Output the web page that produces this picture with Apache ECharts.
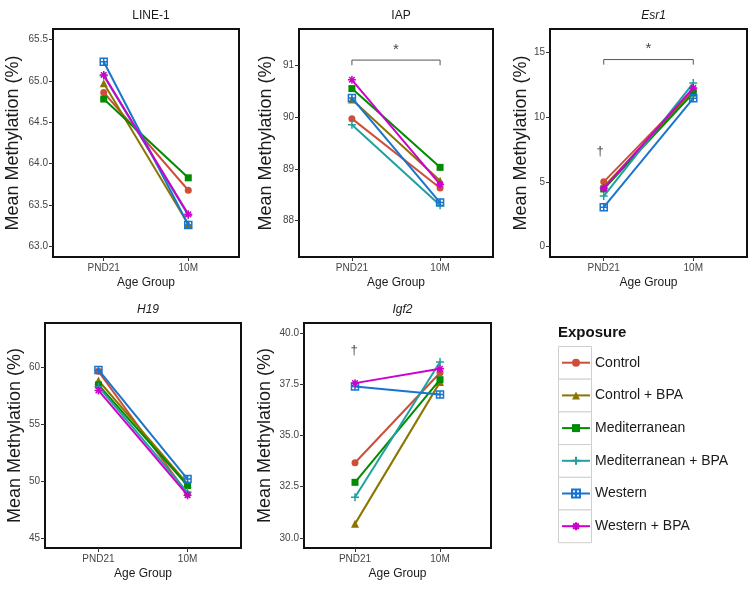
<!DOCTYPE html>
<html>
<head>
<meta charset="utf-8">
<script src="https://cdn.jsdelivr.net/npm/echarts@6/dist/echarts.min.js"></script>
<style>html,body{margin:0;padding:0;background:#fff}#c{width:754px;height:590px}</style>
</head>
<body>
<div id="c"></div>
<script>
// ---- data ----
const ageGroups = ['PND21', '10M'];
const exposures = ['Control', 'Control + BPA', 'Mediterranean', 'Mediterranean + BPA', 'Western', 'Western + BPA'];
const genes = ['LINE-1', 'IAP', 'Esr1', 'H19', 'Igf2'];
// values per exposure: [PND21, 10M]
const line1Values = [[64.86, 63.68], [64.97, 63.27], [64.78, 63.83], [65.06, 63.38], [65.23, 63.26], [65.07, 63.39]];
const iapValues   = [[89.97, 88.63], [90.34, 88.77], [90.55, 89.03], [89.85, 88.30], [90.37, 88.35], [90.72, 88.70]];
const esr1Values  = [[5.00, 12.10], [4.60, 12.00], [4.45, 11.85], [3.90, 12.63], [3.05, 11.45], [4.50, 12.25]];
const h19Values   = [[59.65, 48.85], [58.84, 49.75], [58.45, 49.60], [58.30, 49.00], [59.77, 50.17], [57.97, 48.75]];
const igf2Values  = [[33.67, 38.07], [30.68, 37.61], [32.71, 37.73], [31.98, 38.59], [37.40, 37.00], [37.56, 38.26]];
// y tick labels per panel
const line1Ticks = [63.0, 63.5, 64.0, 64.5, 65.0, 65.5];
const iapTicks   = [88, 89, 90, 91];
const esr1Ticks  = [0, 5, 10, 15];
const h19Ticks   = [45, 50, 55, 60];
const igf2Ticks  = [30.0, 32.5, 35.0, 37.5, 40.0];
// significance annotations
const iapBracket  = [91.0, 91.1];   // [tick end, bar]
const esr1Bracket = [14.05, 14.44];
const iapStar  = [1.5, 91.3];
const esr1Star = [1.5, 15.3];
const esr1Dagger = [0.96, 7.35];
const igf2Dagger = [0.99, 39.15];

// ---- styling ----
const colors = ['#cd4f39', '#8b7500', '#008b00', '#20a0a0', '#1874cd', '#cd00cd'];
const symbols = [
  'circle',
  'triangle',
  'rect',
  'path://M5,0 L5,10 M0,5 L10,5',
  'path://M0,0 L10,0 L10,10 L0,10 Z M5,0 L5,10 M0,5 L10,5',
  'path://M5,0 L5,10 M0,5 L10,5 M1.5,1.5 L8.5,8.5 M8.5,1.5 L1.5,8.5'
];
const strokeOnly = [false, false, false, true, true, true];
const symSizes = [7, 8, 7, 8, 7, 8];

const panels = [
  {name: genes[0], vals: line1Values, ticks: line1Ticks, dec: 1, min: 62.875, max: 65.625, italic: false,
   grid: {left: 53, top: 29, width: 186, height: 228}, nameGap: 31},
  {name: genes[1], vals: iapValues, ticks: iapTicks, dec: 0, min: 87.3, max: 91.7, italic: false,
   grid: {left: 299, top: 29, width: 194, height: 228}, nameGap: 24},
  {name: genes[2], vals: esr1Values, ticks: esr1Ticks, dec: 0, min: -0.8, max: 16.8, italic: true,
   grid: {left: 550, top: 29, width: 197, height: 228}, nameGap: 19},
  {name: genes[3], vals: h19Values, ticks: h19Ticks, dec: 0, min: 44.1, max: 63.9, italic: true,
   grid: {left: 45, top: 323, width: 196, height: 225}, nameGap: 21},
  {name: genes[4], vals: igf2Values, ticks: igf2Ticks, dec: 1, min: 29.5, max: 40.5, italic: true,
   grid: {left: 304, top: 323, width: 187, height: 225}, nameGap: 30}
];

const FONT = 'Liberation Sans, Arial, sans-serif';
const grids = [], xAxes = [], yAxes = [], series = [], titles = [];

panels.forEach((p, k) => {
  grids.push(Object.assign({show: true, borderColor: '#111', borderWidth: 2, backgroundColor: '#fff'}, p.grid));
  titles.push({
    text: p.name, left: p.grid.left + p.grid.width / 2, top: p.grid.top - 24, textAlign: 'center',
    textStyle: {fontFamily: FONT, fontSize: 12, fontWeight: 'normal', fontStyle: p.italic ? 'italic' : 'normal', color: '#1a1a1a'}
  });
  xAxes.push({
    gridIndex: k, type: 'value', min: 0.4, max: 2.6, position: 'bottom',
    name: 'Age Group', nameLocation: 'middle', nameGap: 20,
    nameTextStyle: {fontFamily: FONT, fontSize: 12, color: '#1a1a1a'},
    axisLine: {show: false, onZero: false}, splitLine: {show: false},
    axisTick: {show: true, length: 4, lineStyle: {color: '#333'}, customValues: [1, 2]},
    axisLabel: {fontFamily: FONT, fontSize: 10, color: '#444', margin: 6, customValues: [1, 2],
      formatter: v => ageGroups[Math.round(v) - 1]}
  });
  yAxes.push({
    gridIndex: k, type: 'value', min: p.min, max: p.max, position: 'left',
    name: 'Mean Methylation (%)', nameLocation: 'middle', nameGap: p.nameGap,
    nameTextStyle: {fontFamily: FONT, fontSize: 18, color: '#1a1a1a'},
    axisLine: {show: false, onZero: false}, splitLine: {show: false},
    axisTick: {show: true, length: 4, lineStyle: {color: '#333'}, customValues: p.ticks},
    axisLabel: {fontFamily: FONT, fontSize: 10, color: '#444', margin: 5, customValues: p.ticks,
      formatter: v => Number(v).toFixed(p.dec)}
  });
  exposures.forEach((ex, i) => {
    series.push({
      name: ex, type: 'line', xAxisIndex: k, yAxisIndex: k,
      data: p.vals[i].map((v, j) => [j + 1, v]),
      color: colors[i],
      symbol: symbols[i], symbolSize: symSizes[i],
      lineStyle: {color: colors[i], width: 2},
      itemStyle: strokeOnly[i]
        ? {color: 'rgba(255,255,255,0)', borderColor: colors[i], borderWidth: 1.5}
        : {color: colors[i], borderWidth: 0},
      emphasis: {disabled: true},
      animation: false, z: 3 + i
    });
  });
});

// annotations
function bracket(k, b) {
  series.push({type: 'line', xAxisIndex: k, yAxisIndex: k, silent: true, symbol: 'none', animation: false,
    data: [[1, b[0]], [1, b[1]], [2, b[1]], [2, b[0]]],
    lineStyle: {color: '#555', width: 1}, z: 2});
}
function mark(k, pt, txt, size) {
  series.push({type: 'scatter', xAxisIndex: k, yAxisIndex: k, silent: true, animation: false,
    data: [pt], symbolSize: 1, itemStyle: {color: 'rgba(0,0,0,0)'},
    label: {show: true, position: 'inside', formatter: txt, fontFamily: FONT, fontSize: size, color: '#111'}});
}
bracket(1, iapBracket); bracket(2, esr1Bracket);
mark(1, iapStar, '*', 15); mark(2, esr1Star, '*', 15);
mark(2, esr1Dagger, '†', 13); mark(4, igf2Dagger, '†', 13);

// legend key boxes (decoration)
const boxTop = 346, boxH = 32.7;
const graphics = [];
for (let i = 0; i < exposures.length; i++) {
  graphics.push({type: 'rect', left: 558, top: boxTop + i * boxH, silent: true,
    shape: {width: 33, height: boxH}, style: {fill: '#fff', stroke: '#cfcfcf', lineWidth: 1}, z: -1});
}
graphics.push({type: 'text', left: 558, top: 325, silent: true,
  style: {text: 'Exposure', fontFamily: FONT, fontSize: 15, fontWeight: 'bold', fill: '#111'}});

const chart = echarts.init(document.getElementById('c'), null, {renderer: 'canvas'});
chart.setOption({
  animation: false,
  backgroundColor: '#fff',
  title: titles,
  grid: grids,
  xAxis: xAxes,
  yAxis: yAxes,
  graphic: graphics,
  legend: {
    data: exposures, orient: 'vertical', left: 556, top: 350.7, padding: 5,
    itemWidth: 28, itemHeight: 10, itemGap: 18.7,
    textStyle: {fontFamily: FONT, fontSize: 14, color: '#1a1a1a'},
    selectedMode: false
  },
  series: series
});
</script>
</body>
</html>
